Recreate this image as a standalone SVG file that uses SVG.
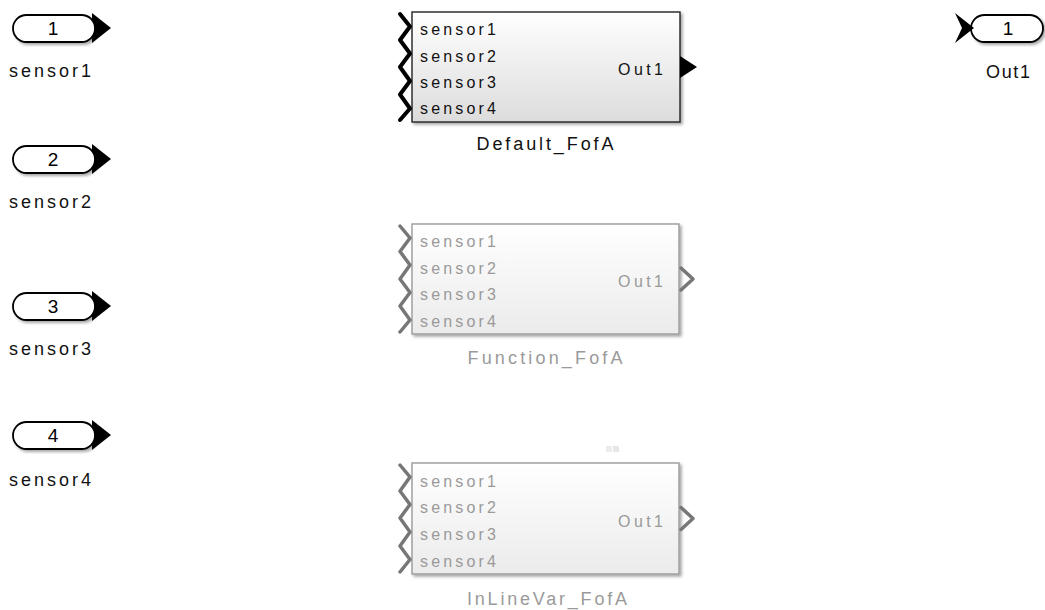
<svg xmlns="http://www.w3.org/2000/svg" width="1045" height="610" viewBox="0 0 1045 610">
<defs>
<linearGradient id="gDef" x1="0" y1="0" x2="0" y2="1">
<stop offset="0" stop-color="#ffffff"/>
<stop offset="1" stop-color="#dcdcdc"/>
</linearGradient>
<linearGradient id="gOff" x1="0" y1="0" x2="0" y2="1">
<stop offset="0" stop-color="#ffffff"/>
<stop offset="1" stop-color="#ebebeb"/>
</linearGradient>
<filter id="sh" x="-5%" y="-5%" width="115%" height="120%">
<feGaussianBlur in="SourceAlpha" stdDeviation="1.5"/>
<feOffset dx="2" dy="2" result="b"/>
<feComponentTransfer><feFuncA type="linear" slope="0.35"/></feComponentTransfer>
<feMerge><feMergeNode/><feMergeNode in="SourceGraphic"/></feMerge>
</filter>
</defs>
<style>
text{font-family:"Liberation Sans","DejaVu Sans",sans-serif;}
.pill{fill:#ffffff;stroke:#000;stroke-width:1.8;}
.num{font-size:19px;text-anchor:middle;fill:#000;}
.lbl{font-size:18px;fill:#111;}
.blk{stroke:#222;stroke-width:1.4;fill:url(#gDef);}
.blkOff{stroke:#9a9a9a;stroke-width:1.4;fill:url(#gOff);}
.pin{font-size:16px;fill:#111;}
.pinOff{font-size:16px;fill:#9a9a9a;}
.bl{font-size:18px;text-anchor:middle;fill:#111;}
.blOff{font-size:18px;text-anchor:middle;fill:#9a9a9a;}
.chev{fill:none;stroke:#000;stroke-width:4;stroke-linejoin:round;stroke-linecap:round;}
.chevOff{fill:none;stroke:#777;stroke-width:3.5;stroke-linejoin:round;stroke-linecap:round;}
.arr{fill:#000;}
</style>

<g id="sensor1">
<polygon class="arr" points="92,13 111,28 92,43"/>
<rect class="pill" x="13" y="15" width="82" height="27" rx="13.5" filter="url(#sh)"/>
<text class="num" x="53" y="35">1</text>
<text class="lbl" x="9" y="77" textLength="82" lengthAdjust="spacing">sensor1</text>
</g>
<g id="sensor2">
<polygon class="arr" points="92,144 111,159 92,174"/>
<rect class="pill" x="13" y="146" width="82" height="27" rx="13.5" filter="url(#sh)"/>
<text class="num" x="53" y="166">2</text>
<text class="lbl" x="9" y="208" textLength="82" lengthAdjust="spacing">sensor2</text>
</g>
<g id="sensor3">
<polygon class="arr" points="92,291 111,306 92,321"/>
<rect class="pill" x="13" y="293" width="82" height="27" rx="13.5" filter="url(#sh)"/>
<text class="num" x="53" y="313">3</text>
<text class="lbl" x="9" y="355" textLength="82" lengthAdjust="spacing">sensor3</text>
</g>
<g id="sensor4">
<polygon class="arr" points="92,420 111,435 92,450"/>
<rect class="pill" x="13" y="422" width="82" height="27" rx="13.5" filter="url(#sh)"/>
<text class="num" x="53" y="442">4</text>
<text class="lbl" x="9" y="486" textLength="82" lengthAdjust="spacing">sensor4</text>
</g>

<g id="Out1">
<rect class="pill" x="971" y="15" width="72" height="27" rx="13.5" filter="url(#sh)"/>
<polygon class="arr" points="955,13 974,28 955,43 962,28"/>
<text class="num" x="1008" y="35">1</text>
<text class="lbl" x="1008" y="78" text-anchor="middle" textLength="44" lengthAdjust="spacing">Out1</text>
</g>

<g id="Default_FofA">
<rect class="blk" x="412" y="12" width="268" height="110" filter="url(#sh)"/>
<polyline class="chev" points="400,14 410,26.5 400,40 410,53.5 400,67 410,81 400,94.5 410,108.5 400,120"/>
<polygon class="arr" points="680,56 697,67 680,78"/>
<text class="pin" x="420" y="35" textLength="76" lengthAdjust="spacing">sensor1</text>
<text class="pin" x="420" y="62" textLength="76" lengthAdjust="spacing">sensor2</text>
<text class="pin" x="420" y="88" textLength="76" lengthAdjust="spacing">sensor3</text>
<text class="pin" x="420" y="114" textLength="76" lengthAdjust="spacing">sensor4</text>
<text class="pin" x="618" y="75" textLength="45" lengthAdjust="spacing">Out1</text>
<text class="bl" x="545" y="150" textLength="137" lengthAdjust="spacing">Default_FofA</text>
</g>

<g id="Function_FofA">
<rect class="blkOff" x="412" y="224" width="267" height="110" filter="url(#sh)"/>
<polyline class="chevOff" points="400,226 410,238 400,251.5 410,265 400,279 410,292.5 400,306 410,320 400,332"/>
<polyline class="chevOff" points="681,268 693,279 681,290"/>
<text class="pinOff" x="420" y="247" textLength="76" lengthAdjust="spacing">sensor1</text>
<text class="pinOff" x="420" y="274" textLength="76" lengthAdjust="spacing">sensor2</text>
<text class="pinOff" x="420" y="300" textLength="76" lengthAdjust="spacing">sensor3</text>
<text class="pinOff" x="420" y="327" textLength="76" lengthAdjust="spacing">sensor4</text>
<text class="pinOff" x="618" y="287" textLength="45" lengthAdjust="spacing">Out1</text>
<text class="blOff" x="545" y="364" textLength="155" lengthAdjust="spacing">Function_FofA</text>
</g>

<g id="InLineVar_FofA">
<rect class="blkOff" x="412" y="463" width="267" height="111" filter="url(#sh)"/>
<polyline class="chevOff" points="400,465 410,477 400,491 410,504.5 400,518 410,532 400,546 410,559.5 400,572"/>
<polyline class="chevOff" points="681,507.5 693,518.5 681,529.5"/>
<text class="pinOff" x="420" y="487" textLength="76" lengthAdjust="spacing">sensor1</text>
<text class="pinOff" x="420" y="513" textLength="76" lengthAdjust="spacing">sensor2</text>
<text class="pinOff" x="420" y="540" textLength="76" lengthAdjust="spacing">sensor3</text>
<text class="pinOff" x="420" y="567" textLength="76" lengthAdjust="spacing">sensor4</text>
<text class="pinOff" x="618" y="527" textLength="45" lengthAdjust="spacing">Out1</text>
<text class="blOff" x="547" y="605" textLength="160" lengthAdjust="spacing">InLineVar_FofA</text>
<rect x="606" y="446" width="6" height="6" fill="#ececec"/>
<rect x="613" y="446" width="6" height="6" fill="#e6e6e6"/>
</g>

<g id="connectors"></g>
</svg>
